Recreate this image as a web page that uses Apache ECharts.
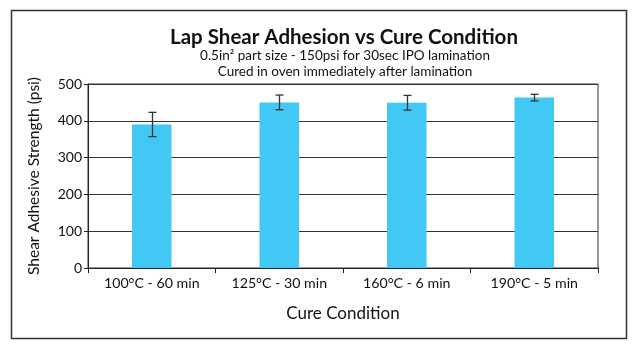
<!DOCTYPE html>
<html><head><meta charset="utf-8">
<script src="https://cdn.jsdelivr.net/npm/echarts@6/dist/echarts.min.js"></script>
<style>html,body{margin:0;padding:0;background:#fff}#c{width:637px;height:344px}</style>
</head><body><div id="c"></div>
<script>
const categories = ['100°C - 60 min', '125°C - 30 min', '160°C - 6 min', '190°C - 5 min'];
const strength = [390, 450, 449, 463];
const errorPlusMinus = [33, 20, 20, 9];
const yTicks = [0, 100, 200, 300, 400, 500];

const FONT = 'Lato';
const chart = echarts.init(document.getElementById('c'));
chart.setOption({
  animation: false,
  backgroundColor: '#fff',
  graphic: [{
    type: 'rect', shape: {x: 11.5, y: 10.5, width: 615, height: 328},
    style: {fill: 'none', stroke: '#333', lineWidth: 1.5}, silent: true
  }],
  title: [{
    text: 'Lap Shear Adhesion vs Cure Condition',
    left: 339, top: 22, textAlign: 'center',
    textStyle: {fontFamily: FONT, fontWeight: 'bold', fontSize: 20.5, color: '#111'}
  }, {
    text: '0.5in² part size - 150psi for 30sec IPO lamination\nCured in oven immediately after lamination',
    left: 340, top: 43, textAlign: 'center',
    textStyle: {fontFamily: FONT, fontWeight: 'normal', fontSize: 13.5, color: '#111', lineHeight: 16}
  }],
  grid: {left: 88, right: 39, top: 84, bottom: 76, show: true, borderColor: '#333', borderWidth: 1},
  xAxis: {
    type: 'category', data: categories,
    name: 'Cure Condition', nameLocation: 'middle', nameGap: 37,
    nameTextStyle: {fontFamily: FONT, fontSize: 17, color: '#111'},
    axisLine: {lineStyle: {color: '#222', width: 1}},
    axisTick: {show: true, length: 5, alignWithLabel: false, lineStyle: {color: '#222'}},
    axisLabel: {fontFamily: FONT, fontSize: 14.2, color: '#111', margin: 8}
  },
  yAxis: {
    type: 'value', min: yTicks[0], max: yTicks[yTicks.length - 1], interval: 100,
    name: 'Shear Adhesive Strength (psi)', nameLocation: 'middle', nameGap: 46,
    nameTextStyle: {fontFamily: FONT, fontSize: 15.5, color: '#111'},
    axisLine: {show: true, lineStyle: {color: '#222', width: 1}},
    axisTick: {show: true, length: 4, lineStyle: {color: '#222'}},
    axisLabel: {fontFamily: FONT, fontSize: 14, color: '#111', margin: 6},
    splitLine: {lineStyle: {color: '#333', width: 1}}
  },
  series: [{
    type: 'bar', data: strength, barWidth: '31%',
    itemStyle: {color: '#41C8F4'}
  }, {
    type: 'custom',
    data: strength.map((v, i) => [i, v - errorPlusMinus[i], v + errorPlusMinus[i]]),
    encode: {x: 0, y: [1, 2]},
    z: 10,
    renderItem: function (params, api) {
      const lo = api.coord([api.value(0), api.value(1)]);
      const hi = api.coord([api.value(0), api.value(2)]);
      const x = Math.round(lo[0]) + 0.5, hw = 4;
      const st = {stroke: '#333', lineWidth: 1.3};
      return {type: 'group', children: [
        {type: 'line', shape: {x1: x, y1: hi[1], x2: x, y2: lo[1]}, style: st},
        {type: 'line', shape: {x1: x - hw, y1: hi[1], x2: x + hw, y2: hi[1]}, style: st},
        {type: 'line', shape: {x1: x - hw, y1: lo[1], x2: x + hw, y2: lo[1]}, style: st}
      ]};
    }
  }]
});
</script></body></html>
